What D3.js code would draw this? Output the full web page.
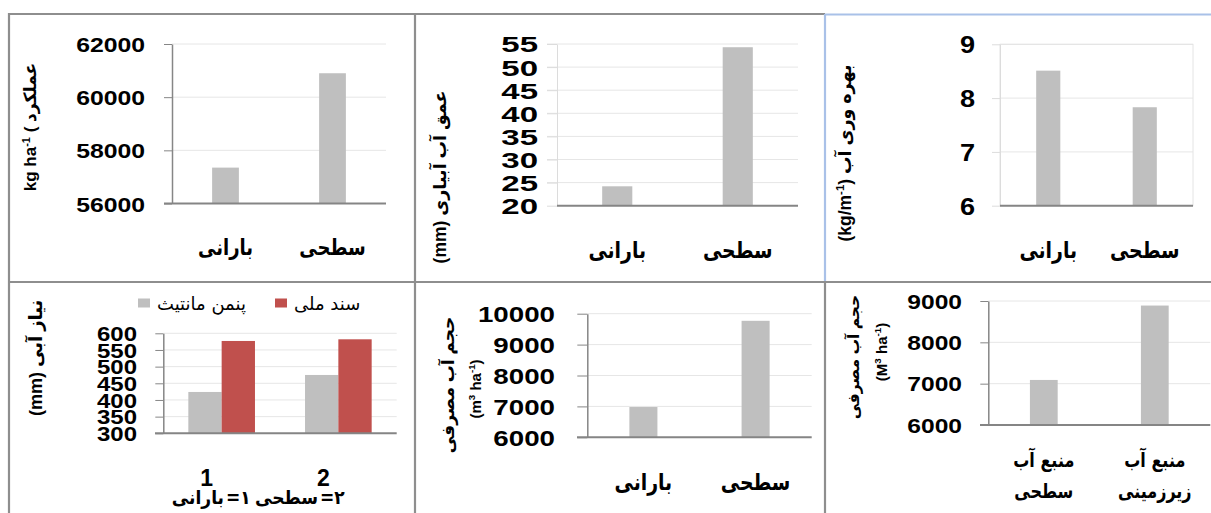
<!DOCTYPE html>
<html>
<head>
<meta charset="utf-8">
<script src="https://cdn.jsdelivr.net/npm/d3@7"></script>
<style>
  html, body { margin: 0; padding: 0; background: #fff; }
  svg { display: block; }
</style>
</head>
<body>
<script>
// ---- data ----
const systemCats = ["بارانی", "سطحی"];

const yieldValues = [57350, 60900];
const yieldTicks = [56000, 58000, 60000, 62000];

const depthValues = [24.2, 54.3];
const depthTicks = [20, 25, 30, 35, 40, 45, 50, 55];

const productivityValues = [8.51, 7.83];
const productivityTicks = [6, 7, 8, 9];

const demandCats = ["1", "2"];
const demandSeriesNames = ["پنمن مانتیث", "سند ملی"];
const penmanValues = [424, 475];
const nationalValues = [577, 582];
const demandTicks = [300, 350, 400, 450, 500, 550, 600];

const volumeValues = [6980, 9770];
const volumeTicks = [6000, 7000, 8000, 9000, 10000];

const sourceCats = [["منبع آب", "سطحی"], ["منبع آب", "زیرزمینی"]];
const sourceValues = [7090, 8890];
const sourceTicks = [6000, 7000, 8000, 9000];

// ---- styling ----
const NUM_FONT = "'Liberation Sans', Arial, sans-serif";
const AR_FONT = "'DejaVu Sans', sans-serif";
const MIX_FONT = "'Liberation Sans', 'DejaVu Sans', sans-serif";
const GRAY_BAR = "#bfbfbf";
const RED_BAR = "#c0504d";
const FRAME = "#8e8e8e";
const FRAME_BLUE = "#a9c1e8";

const W = 1211, H = 513;
const svg = d3.select("body").append("svg").attr("width", W).attr("height", H);
const defs = svg.append("defs");

// rotated axis title made of plain and superscript parts
function rotatedTitle(g, t) {
  const txt = g.append("text")
    .attr("transform", `translate(${t.x},${t.y}) rotate(-90)`)
    .attr("text-anchor", t.anchor || "middle")
    .attr("direction", "ltr")
    .attr("font-family", MIX_FONT)
    .attr("font-weight", "bold")
    .attr("font-size", t.size)
    .attr("fill", "#000");
  let shifted = false;
  t.parts.forEach(p => {
    const sp = txt.append("tspan").text(p.t);
    if (p.sup) {
      sp.attr("font-size", t.size * 0.65).attr("dy", -t.size * 0.38);
      shifted = true;
    } else if (shifted) {
      sp.attr("dy", t.size * 0.38);
      shifted = false;
    }
  });
}

function drawPanel(p) {
  defs.append("clipPath").attr("id", "clip-" + p.id)
    .append("rect").attr("x", p.clip[0]).attr("y", p.clip[1])
    .attr("width", p.clip[2]).attr("height", p.clip[3]);
  const g = svg.append("g").attr("clip-path", `url(#clip-${p.id})`);

  const x = d3.scaleBand().domain(d3.range(p.cats.length)).range([p.x0, p.x1]);
  const y = d3.scaleLinear()
    .domain([p.ticks[0], p.ticks[p.ticks.length - 1]])
    .range([p.y1, p.y0]);

  // horizontal gridlines
  g.append("g").selectAll("line").data(p.ticks.slice(1)).join("line")
    .attr("x1", p.gridX0 != null ? p.gridX0 : p.x0).attr("x2", p.x1)
    .attr("y1", d => y(d)).attr("y2", d => y(d))
    .attr("stroke", "#e6e6e6").attr("stroke-width", 1);

  if (p.plotBorder) {
    g.append("rect").attr("x", p.x0).attr("y", y(p.ticks[p.ticks.length - 1]))
      .attr("width", p.x1 - p.x0).attr("height", y(p.ticks[0]) - y(p.ticks[p.ticks.length - 1]))
      .attr("fill", "none").attr("stroke", "#e4e4e4").attr("stroke-width", 1);
  }

  // bars
  const n = p.series.length;
  const bw = x.bandwidth() * p.barFrac / n;
  p.series.forEach((s, si) => {
    g.append("g").selectAll("rect").data(s.values).join("rect")
      .attr("x", (d, i) => x(i) + (x.bandwidth() - bw * n) / 2 + si * bw)
      .attr("width", bw)
      .attr("y", d => y(d))
      .attr("height", d => y(p.ticks[0]) - y(d))
      .attr("fill", s.color);
  });

  // y axis
  const ax = g.append("g").attr("transform", `translate(${p.x0},0)`)
    .call(d3.axisLeft(y).tickValues(p.ticks).tickSize(p.tickLen).tickSizeOuter(0)
      .tickFormat(d => String(d)));
  ax.select(".domain").attr("stroke", p.axisColor).attr("stroke-width", p.axisWidth || 1.5);
  ax.selectAll(".tick line").attr("stroke", p.axisColor).attr("stroke-width", 1);
  ax.selectAll(".tick text")
    .attr("font-family", NUM_FONT).attr("font-weight", "bold")
    .attr("font-size", p.tickFont[0]).attr("fill", "#000")
    .attr("x", (p.labelRight - p.x0) / p.tickFont[1])
    .attr("dy", "0.36em")
    .attr("transform", `scale(${p.tickFont[1]},1)`);

  // x baseline
  g.append("line")
    .attr("x1", p.baseX0).attr("x2", p.x1)
    .attr("y1", y(p.ticks[0])).attr("y2", y(p.ticks[0]))
    .attr("stroke", "#858585").attr("stroke-width", 2);

  // category labels (one or more lines each), horizontally condensed
  const csx = p.catSx || 1;
  p.cats.forEach((c, i) => {
    const lines = Array.isArray(c) ? c : [c];
    lines.forEach((ln, li) => {
      g.append("text")
        .attr("transform", `translate(${x(i) + x.bandwidth() / 2 + (p.catDx || 0)},${p.catY[li]}) scale(${csx},1)`)
        .attr("text-anchor", "middle")
        .attr("dominant-baseline", "central")
        .attr("direction", "rtl")
        .attr("font-family", p.catFamily || AR_FONT)
        .attr("font-weight", "bold")
        .attr("font-size", p.catSize)
        .attr("fill", "#000")
        .text(ln);
    });
  });

  (p.titles || []).forEach(t => rotatedTitle(g, t));
  return g;
}

// ---- panel 1: yield ----
drawPanel({
  id: "yield", clip: [10, 15, 404, 266],
  cats: systemCats, ticks: yieldTicks,
  series: [{ values: yieldValues, color: GRAY_BAR }],
  x0: 172, x1: 386, y0: 44, y1: 203.5, barFrac: 0.25,
  tickLen: 8, axisColor: "#868686", labelRight: 145, tickFont: [21, 1.18],
  baseX0: 164, catY: [247], catSize: 22, catSx: 0.82,
  titles: [{ x: 36, y: 127, size: 17, parts: [
    { t: "kg ha" }, { t: "-1", sup: true }, { t: " ( عملکرد" }] }]
});

// ---- panel 2: irrigation depth ----
drawPanel({
  id: "depth", clip: [416, 15, 408, 266],
  cats: systemCats, ticks: depthTicks,
  series: [{ values: depthValues, color: GRAY_BAR }],
  x0: 557, x1: 798, y0: 44, y1: 205.7, barFrac: 0.25,
  tickLen: 10, axisColor: "#dcdcdc", axisWidth: 1, gridX0: 547,
  labelRight: 538, tickFont: [22, 1.5],
  baseX0: 557, catY: [250], catSize: 23, catSx: 0.82,
  titles: [{ x: 446, y: 177, size: 17.5, parts: [
    { t: "(mm) " }, { t: "عمق آب آبیاری" }] }]
});

// ---- panel 3: water productivity ----
drawPanel({
  id: "wp", clip: [826, 16, 385, 265],
  cats: systemCats, ticks: productivityTicks,
  series: [{ values: productivityValues, color: GRAY_BAR }],
  x0: 1000, x1: 1193, y0: 44.3, y1: 205.7, barFrac: 0.25,
  tickLen: 8, axisColor: "#dcdcdc", axisWidth: 1, plotBorder: true,
  labelRight: 975, tickFont: [24, 1.13],
  baseX0: 1000, catY: [250], catSize: 23, catSx: 0.82,
  titles: [{ x: 851, y: 153, size: 17.5, parts: [
    { t: "(kg/m" }, { t: "-1", sup: true }, { t: ") " }, { t: "بهره وری آب" }] }]
});

// ---- panel 4: water demand, two methods ----
const demandPanel = drawPanel({
  id: "demand", clip: [10, 283, 404, 230],
  cats: demandCats, ticks: demandTicks,
  series: [{ values: penmanValues, color: GRAY_BAR }, { values: nationalValues, color: RED_BAR }],
  x0: 163.3, x1: 396.7, y0: 333.3, y1: 433.3, barFrac: 0.571,
  tickLen: 8, axisColor: "#868686", labelRight: 137, tickFont: [20, 1.2],
  baseX0: 155, catY: [478], catSize: 23, catDx: -15, catFamily: NUM_FONT,
  titles: [{ x: 42, y: 416, anchor: "start", size: 18, parts: [
    { t: "(mm) " }, { t: "نیاز آبی" }] }]
});

// legend
const legendColors = [GRAY_BAR, RED_BAR];
const legendX = [138, 275];
demandSeriesNames.forEach((name, i) => {
  demandPanel.append("rect").attr("x", legendX[i]).attr("y", 298.5)
    .attr("width", 12).attr("height", 9).attr("fill", legendColors[i]);
  demandPanel.append("text").attr("x", legendX[i] + 19).attr("y", 303)
    .attr("dominant-baseline", "central").attr("text-anchor", "start")
    .attr("font-family", AR_FONT).attr("font-size", 18).attr("fill", "#000")
    .text(name);
});

// key below the categories: 1 = sprinkler, 2 = surface
const keyParts = [
  { t: "بارانی", x: 224, anchor: "end" },
  { t: "=۱", x: 226, anchor: "start" },
  { t: "سطحی", x: 318, anchor: "end" },
  { t: "=۲", x: 320, anchor: "start" }
];
keyParts.forEach(k => {
  demandPanel.append("text")
    .attr("transform", `translate(${k.x},497) scale(0.9,1)`)
    .attr("dominant-baseline", "central").attr("text-anchor", k.anchor)
    .attr("direction", "ltr")
    .attr("font-family", AR_FONT).attr("font-weight", "bold").attr("font-size", 19)
    .attr("fill", "#000").text(k.t);
});

// ---- panel 5: applied water volume ----
drawPanel({
  id: "volume", clip: [416, 283, 408, 230],
  cats: systemCats, ticks: volumeTicks,
  series: [{ values: volumeValues, color: GRAY_BAR }],
  x0: 587.3, x1: 811.7, y0: 313.7, y1: 437.3, barFrac: 0.25,
  tickLen: 10, axisColor: "#868686", labelRight: 555, tickFont: [22, 1.26],
  baseX0: 577, catY: [482], catSize: 23, catSx: 0.82,
  titles: [
    { x: 454, y: 385, size: 17, parts: [{ t: "حجم آب مصرفی" }] },
    { x: 481, y: 389, size: 15, parts: [
      { t: "(m" }, { t: "3", sup: true }, { t: "  ha" }, { t: "-1", sup: true }, { t: ")" }] }
  ]
});

// ---- panel 6: water source volume ----
drawPanel({
  id: "source", clip: [826, 283, 385, 230],
  cats: sourceCats, ticks: sourceTicks,
  series: [{ values: sourceValues, color: GRAY_BAR }],
  x0: 988.3, x1: 1210.3, y0: 301, y1: 425, barFrac: 0.25,
  tickLen: 8, axisColor: "#868686", labelRight: 962, tickFont: [20, 1.23],
  baseX0: 980, catY: [460, 491], catSize: 20, catSx: 0.8,
  titles: [
    { x: 859, y: 357, size: 15.5, parts: [{ t: "حجم آب مصرفی" }] },
    { x: 887, y: 352, size: 15, parts: [
      { t: "(M" }, { t: "3", sup: true }, { t: " ha" }, { t: "-1", sup: true }, { t: ")" }] }
  ]
});

// ---- panel frames ----
const frame = svg.append("g").attr("fill", "none").attr("stroke-width", 2.2);
const frameLines = [
  [9, 14, 825, 14, FRAME],
  [825, 14.5, W, 14.5, FRAME_BLUE],
  [9, 13, 9, H, FRAME],
  [415, 13, 415, H, FRAME],
  [825, 14, 825, 282, FRAME_BLUE],
  [825, 282, 825, H, FRAME],
  [8, 282, W, 282, FRAME]
];
frame.selectAll("line").data(frameLines).join("line")
  .attr("x1", d => d[0]).attr("y1", d => d[1])
  .attr("x2", d => d[2]).attr("y2", d => d[3])
  .attr("stroke", d => d[4]);
</script>
</body>
</html>
